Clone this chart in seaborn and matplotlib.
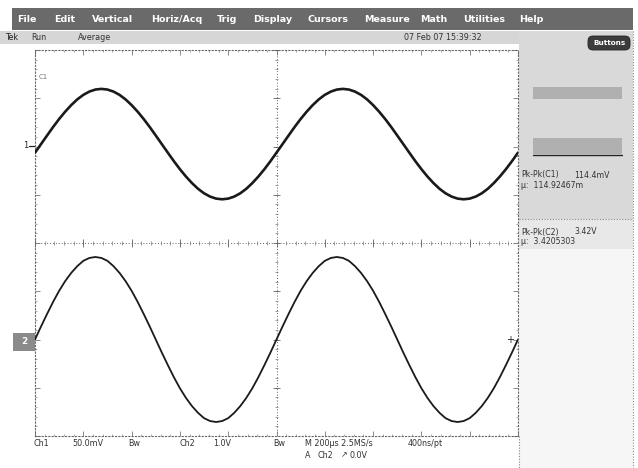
import matplotlib
matplotlib.use("Agg")
import numpy as np
import pandas as pd
import matplotlib.pyplot as plt
import seaborn as sns
from matplotlib.patches import Rectangle, FancyBboxPatch

sns.set_theme(style="white")
plt.rcParams['font.family'] = ['DejaVu Sans']

# ---------------- data ----------------
time_us = list(range(0, 2001, 25))          # sample times, 200 us/div, 10 div

ch1_mV = [-6.4,
          2.5, 11.4, 20.2, 28.5, 36.1, 42.9, 48.8, 53.5, 56.9, 59.0,
          59.7, 59.0, 56.9, 53.5, 48.8, 42.9, 36.1, 28.5, 20.2, 11.4,
          2.5, -6.4, -15.2, -23.5, -31.1, -37.9, -43.8, -48.5, -51.9, -54.0,
          -54.7, -54.0, -51.9, -48.5, -43.8, -37.9, -31.1, -23.5, -15.2, -6.4,
          2.5, 11.4, 20.2, 28.5, 36.1, 42.9, 48.8, 53.5, 56.9, 59.0,
          59.7, 59.0, 56.9, 53.5, 48.8, 42.9, 36.1, 28.5, 20.2, 11.4,
          2.5, -6.4, -15.2, -23.5, -31.1, -37.9, -43.8, -48.5, -51.9, -54.0,
          -54.7, -54.0, -51.9, -48.5, -43.8, -37.9, -31.1, -23.5, -15.2, -6.4]

ch2_V = [0.0,
         0.27, 0.53, 0.78, 1.01, 1.21, 1.38, 1.52, 1.63, 1.69, 1.71,
         1.69, 1.63, 1.52, 1.38, 1.21, 1.01, 0.78, 0.53, 0.27, 0.0,
         -0.27, -0.53, -0.78, -1.01, -1.21, -1.38, -1.52, -1.63, -1.69, -1.71,
         -1.69, -1.63, -1.52, -1.38, -1.21, -1.01, -0.78, -0.53, -0.27, 0.0,
         0.27, 0.53, 0.78, 1.01, 1.21, 1.38, 1.52, 1.63, 1.69, 1.71,
         1.69, 1.63, 1.52, 1.38, 1.21, 1.01, 0.78, 0.53, 0.27, 0.0,
         -0.27, -0.53, -0.78, -1.01, -1.21, -1.38, -1.52, -1.63, -1.69, -1.71,
         -1.69, -1.63, -1.52, -1.38, -1.21, -1.01, -0.78, -0.53, -0.27, 0.0]

ch1_scale_mV_per_div = 50.0
ch2_scale_V_per_div = 1.0
ch1_position_div = 2.0
ch2_position_div = -2.0

menu_items = ["File", "Edit", "Vertical", "Horiz/Acq", "Trig", "Display",
              "Cursors", "Measure", "Math", "Utilities", "Help"]
menu_x = [27, 65, 113, 177, 227, 273, 328, 387, 434, 484, 531]

meas_c1 = ("Pk-Pk(C1)", "114.4mV", "\u00b5:  114.92467m")
meas_c2 = ("Pk-Pk(C2)", "3.42V", "\u00b5:  3.4205303")

# ---------------- figure ----------------
W, H = 638, 468
fig = plt.figure(figsize=(W / 100, H / 100), dpi=100)
fig.patch.set_facecolor("white")

bg = fig.add_axes([0, 0, 1, 1], zorder=0)
bg.set_xlim(0, W)
bg.set_ylim(H, 0)
bg.axis("off")

# menu bar
bg.add_patch(Rectangle((12, 8), 621, 22, facecolor="#6a6a6a", edgecolor="none"))
for name, x in zip(menu_items, menu_x):
    bg.text(x, 19.5, name, color="white", fontsize=6.8, fontweight="bold",
            ha="center", va="center")

# status row
bg.add_patch(Rectangle((0, 31), 586, 13, facecolor="#d6d6d6", edgecolor="none"))
bg.text(5, 38, "Tek", fontsize=5.8, color="#222", va="center")
bg.text(31, 38, "Run", fontsize=5.8, color="#333", va="center")
bg.text(78, 38, "Average", fontsize=5.8, color="#333", va="center")
bg.text(404, 38, "07 Feb 07 15:39:32", fontsize=5.8, color="#333", va="center")

# right-hand panel
bg.add_patch(Rectangle((519, 31), 114, 188, facecolor="#d9d9d9", edgecolor="none"))
bg.add_patch(Rectangle((519, 219), 114, 30, facecolor="#e8e8e8", edgecolor="none"))
bg.add_patch(Rectangle((519, 249), 114, 219, facecolor="#f6f6f6", edgecolor="none"))
bg.plot([633, 633], [31, 468], color="#888", lw=0.8, ls=(0, (1, 1.5)))
bg.plot([519, 519], [436, 468], color="#888", lw=0.8, ls=(0, (1, 1.5)))
bg.plot([519, 633], [219, 219], color="#888", lw=0.8, ls=(0, (1, 1.5)))
bg.add_patch(FancyBboxPatch((588, 36), 42, 14, boxstyle="round,pad=0,rounding_size=5",
                            facecolor="#3c3c3c", edgecolor="#222", lw=0.6))
bg.text(609, 43, "Buttons", fontsize=5.2, color="white", fontweight="bold",
        ha="center", va="center")
bg.add_patch(Rectangle((533, 87), 89, 12, facecolor="#b0b0b0", edgecolor="none"))
bg.add_patch(Rectangle((533, 138), 89, 16, facecolor="#b0b0b0", edgecolor="none"))
bg.plot([533, 622], [155, 155], color="#222", lw=1.0)

bg.text(521, 175, meas_c1[0], fontsize=5.6, color="#333", va="center")
bg.text(574, 175, meas_c1[1], fontsize=5.6, color="#333", va="center")
bg.text(521, 185, meas_c1[2], fontsize=5.6, color="#333", va="center")
bg.text(521, 232, meas_c2[0], fontsize=5.6, color="#333", va="center")
bg.text(574, 232, meas_c2[1], fontsize=5.6, color="#333", va="center")
bg.text(521, 242, meas_c2[2], fontsize=5.6, color="#333", va="center")

# channel markers on the left
bg.text(26, 146, "1", fontsize=6, color="#222", ha="center", va="center")
bg.plot([29, 35], [146, 146], color="#222", lw=0.9)
bg.add_patch(Rectangle((13, 333), 22, 18, facecolor="#8a8a8a", edgecolor="none"))
bg.text(24, 342, "2", fontsize=6.5, color="white", fontweight="bold",
        ha="center", va="center")

# bottom readouts
row1, row2 = 444, 455
for x, s in [(33, "Ch1"), (72, "50.0mV"), (128, "Bw"), (180, "Ch2"),
             (213, "1.0V"), (273, "Bw"), (305, "M 200\u00b5s 2.5MS/s"),
             (408, "400ns/pt")]:
    bg.text(x, row1, s, fontsize=5.8, color="#333", va="center")
for x, s in [(305, "A"), (318, "Ch2"), (341, "\u2197"), (350, "0.0V")]:
    bg.text(x, row2, s, fontsize=5.8, color="#333", va="center")

# ---------------- graticule with traces ----------------
gx0, gy0, gx1, gy1 = 35, 50, 518, 436
ax = fig.add_axes([gx0 / W, 1 - gy1 / H, (gx1 - gx0) / W, (gy1 - gy0) / H], zorder=2)
ax.set_facecolor("white")

df = pd.DataFrame({
    "t": time_us + time_us,
    "div": [v / ch1_scale_mV_per_div + ch1_position_div for v in ch1_mV]
           + [v / ch2_scale_V_per_div + ch2_position_div for v in ch2_V],
    "ch": ["Ch1"] * len(time_us) + ["Ch2"] * len(time_us),
})
sns.lineplot(data=df[df.ch == "Ch1"], x="t", y="div", ax=ax, color="#1a1a1a",
             lw=1.9, estimator=None, sort=False, zorder=3)
sns.lineplot(data=df[df.ch == "Ch2"], x="t", y="div", ax=ax, color="#1a1a1a",
             lw=1.3, estimator=None, sort=False, zorder=3)

ax.set_xlim(0, 2000)
ax.set_ylim(-4, 4)
ax.set_xlabel("")
ax.set_ylabel("")
ax.set_xticks(np.arange(0, 2001, 200))
ax.set_xticks(np.arange(0, 2001, 40), minor=True)
ax.set_yticks(np.arange(-4, 4.01, 1))
ax.set_yticks(np.arange(-4, 4.01, 0.2), minor=True)
ax.tick_params(which="major", direction="in", length=3.5, width=0.6, color="#777",
               bottom=True, top=True, left=True, right=True,
               labelbottom=False, labelleft=False)
ax.tick_params(which="minor", direction="in", length=1.5, width=0.5, color="#888",
               bottom=True, top=True, left=True, right=True)
for s in ax.spines.values():
    s.set_linestyle((0, (1, 2)))
    s.set_color("#666")
    s.set_linewidth(0.8)

dot = (0, (1, 2))
ax.axhline(0, color="#666", lw=0.7, ls=dot, zorder=1)
ax.axvline(1000, color="#666", lw=0.7, ls=dot, zorder=1)
ax.vlines(np.arange(0, 2001, 40), -0.04, 0.04, color="#777", lw=0.5, zorder=1)
ax.vlines(np.arange(0, 2001, 200), -0.08, 0.08, color="#666", lw=0.6, zorder=1)
ax.hlines(np.arange(-4, 4.01, 0.2), 992, 1008, color="#777", lw=0.5, zorder=1)
ax.hlines(np.arange(-4, 4.01, 1), 984, 1016, color="#666", lw=0.6, zorder=1)

ax.text(15, 3.45, "C1", fontsize=5, color="#777", va="center")
ax.text(1968, ch2_position_div, "+", fontsize=7, color="#222",
        ha="center", va="center")

fig.savefig("out.png", dpi=100, facecolor="white")
